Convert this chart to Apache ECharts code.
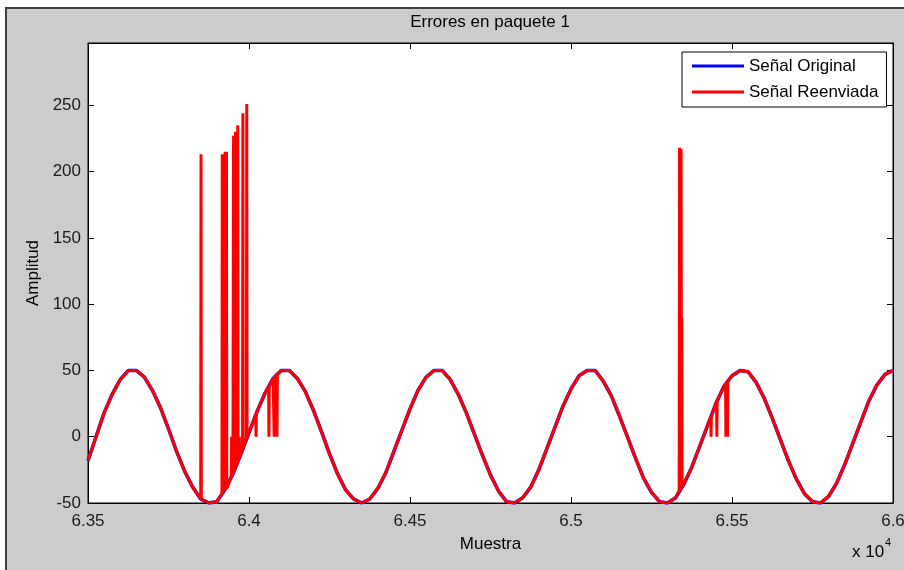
<!DOCTYPE html>
<html>
<head>
<meta charset="utf-8">
<script src="https://cdn.jsdelivr.net/npm/echarts@6.0.0/dist/echarts.min.js"></script>
<style>
html, body { margin: 0; padding: 0; background: #fff; }
#chart { width: 904px; height: 570px; }
</style>
</head>
<body>
<div id="chart"></div>
<script>
// DATA
var samples = [63500, 63525, 63550, 63575, 63600, 63625, 63650, 63675, 63700, 63725,
  63750, 63775, 63800, 63825, 63850, 63875, 63900, 63925, 63950, 63975,
  64000, 64025, 64050, 64075, 64100, 64125, 64150, 64175, 64200, 64225,
  64250, 64275, 64300, 64325, 64350, 64375, 64400, 64425, 64450, 64475,
  64500, 64525, 64550, 64575, 64600, 64625, 64650, 64675, 64700, 64725,
  64750, 64775, 64800, 64825, 64850, 64875, 64900, 64925, 64950, 64975,
  65000, 65025, 65050, 65075, 65100, 65125, 65150, 65175, 65200, 65225,
  65250, 65275, 65300, 65325, 65350, 65375, 65400, 65425, 65450, 65475,
  65500, 65525, 65550, 65575, 65600, 65625, 65650, 65675, 65700, 65725,
  65750, 65775, 65800, 65825, 65850, 65875, 65900, 65925, 65950, 65975, 66000]
var original = [-18, 0, 18, 32, 43, 50, 50, 45, 35, 22,
  6, -11, -26, -38, -47, -50, -49, -40, -28, -13,
  3, 19, 33, 44, 50, 50, 44, 34, 20, 4,
  -13, -28, -40, -47, -50, -47, -39, -27, -11, 5,
  21, 35, 45, 50, 50, 43, 32, 18, 2, -14,
  -29, -41, -49, -50, -46, -38, -25, -9, 7, 23,
  36, 46, 50, 50, 42, 31, 16, 0, -16, -31,
  -42, -49, -50, -46, -36, -23, -7, 9, 25, 38,
  46, 50, 49, 41, 29, 14, -2, -18, -32, -43,
  -49, -50, -45, -35, -21, -5, 11, 27, 39, 47, 50]

// errores del paquete: muestra, valor recibido, nivel de la senal en ese punto
var errSamples = [63851, 63917, 63921, 63926, 63930, 63946, 63952, 63955, 63958, 63962,
  63965, 63970, 63981, 63993, 64022, 64062, 64078, 64087,
  65337, 65342, 65344, 65435, 65453, 65481, 65486]
var errValues = [213, 213, 213, 215, 215, 0, 227, 0, 230, 0,
  235, 0, 244, 251, 0, 0, 0, 0,
  218, 217, 90, 0, 0, 0, 0]
var errBase = [-47, -43, -41, -40, -39, -30, -27, -25, -23, -21,
  -19, -16, -9, -1, 17, 38, 45, 47,
  -41, -39, -38, 15, 27, 40, 42]

var xTicks = [63500, 64000, 64500, 65000, 65500, 66000]
var xTickLabels = ['6.35', '6.4', '6.45', '6.5', '6.55', '6.6']
var yTicks = [-50, 0, 50, 100, 150, 200, 250]
var yTickLabels = ['-50', '0', '50', '100', '150', '200', '250']

var font = 'Liberation Sans, Arial, sans-serif'

var blueData = []
var redData = []
for (var i = 0; i < samples.length; i++) {
  blueData.push([samples[i], original[i]])
  redData.push([samples[i], original[i]])
}
for (var j = 0; j < errSamples.length; j++) {
  var s = errSamples[j]
  redData.push([s - 1, errBase[j]], [s, errValues[j]], [s + 1, errBase[j]])
}
redData.sort(function (a, b) { return a[0] - b[0] })

function xLabel(v) {
  var k = xTicks.indexOf(v)
  return k < 0 ? '' : xTickLabels[k]
}
function yLabel(v) {
  var k = yTicks.indexOf(v)
  return k < 0 ? '' : yTickLabels[k]
}

var tickStyle = { show: true, inside: true, length: 6, lineStyle: { color: '#000', width: 1 } }
var lineStyleAxis = { show: true, onZero: false, lineStyle: { color: '#000', width: 1 } }

var chart = echarts.init(document.getElementById('chart'))
var option = {
  animation: false,
  backgroundColor: '#cccccc',
  textStyle: { fontFamily: font },
  title: {
    text: 'Errores en paquete 1',
    left: 490, top: 14, padding: 0, textAlign: 'center',
    textStyle: { fontSize: 17, fontWeight: 'normal', color: '#000', fontFamily: font }
  },
  grid: {
    left: 88, right: 11, top: 43, bottom: 67,
    outerBoundsMode: 'none', containLabel: false,
    show: true, backgroundColor: '#fff', borderColor: '#000', borderWidth: 1
  },
  legend: {
    left: 682, top: 52, orient: 'vertical',
    backgroundColor: '#fff', borderColor: '#000', borderWidth: 1,
    padding: [4, 8, 5, 10],
    itemWidth: 52, itemHeight: 3, itemGap: 6, icon: 'rect',
    textStyle: { fontSize: 17, color: '#000', lineHeight: 20, fontFamily: font },
    data: ['Señal Original', 'Señal Reenviada']
  },
  xAxis: [
    {
      type: 'value', position: 'bottom', min: 63500, max: 66000, interval: 500,
      name: 'Muestra', nameLocation: 'middle', nameGap: 33,
      nameTextStyle: { fontSize: 17, color: '#000', fontFamily: font },
      axisLine: lineStyleAxis, axisTick: tickStyle,
      axisLabel: { margin: 10, fontSize: 17, color: '#1a1a1a', fontFamily: font, formatter: xLabel },
      splitLine: { show: false }
    },
    {
      type: 'value', position: 'top', min: 63500, max: 66000, interval: 500,
      axisLine: lineStyleAxis, axisTick: tickStyle,
      axisLabel: { show: false }, splitLine: { show: false }
    }
  ],
  yAxis: [
    {
      type: 'value', position: 'left', min: -50, max: 297, interval: 50,
      name: 'Amplitud', nameLocation: 'middle', nameGap: 45, nameRotate: 90,
      nameTextStyle: { fontSize: 17, color: '#000', fontFamily: font },
      axisLine: lineStyleAxis, axisTick: tickStyle,
      axisLabel: { margin: 7, fontSize: 17, color: '#1a1a1a', fontFamily: font, showMaxLabel: false, formatter: yLabel },
      splitLine: { show: false }
    },
    {
      type: 'value', position: 'right', min: -50, max: 297, interval: 50,
      axisLine: lineStyleAxis, axisTick: tickStyle,
      axisLabel: { show: false }, splitLine: { show: false }
    }
  ],
  series: [
    {
      name: 'Señal Original', type: 'line', data: blueData,
      symbol: 'none', showSymbol: false, z: 2,
      itemStyle: { color: '#0000ff' },
      lineStyle: { color: '#0000ff', width: 3.5 }
    },
    {
      name: 'Señal Reenviada', type: 'line', data: redData,
      symbol: 'none', showSymbol: false, z: 3,
      itemStyle: { color: '#ff0000' },
      lineStyle: { color: '#ff0000', width: 3, join: 'bevel' }
    }
  ],
  graphic: [
    { type: 'rect', shape: { x: 0, y: 0, width: 904, height: 7 }, style: { fill: '#fff' } },
    { type: 'rect', shape: { x: 0, y: 0, width: 5, height: 570 }, style: { fill: '#fff' } },
    { type: 'line', shape: { x1: 5, y1: 8, x2: 904, y2: 8 }, style: { stroke: '#404040', lineWidth: 2 } },
    { type: 'line', shape: { x1: 6, y1: 7, x2: 6, y2: 570 }, style: { stroke: '#404040', lineWidth: 2 } },
    { type: 'text', left: 852, top: 544, style: { text: 'x 10', fontSize: 17, fill: '#000', fontFamily: font } },
    { type: 'text', left: 885, top: 537, style: { text: '4', fontSize: 11, fill: '#000', fontFamily: font } }
  ]
}
chart.setOption(option)
</script>
</body>
</html>
